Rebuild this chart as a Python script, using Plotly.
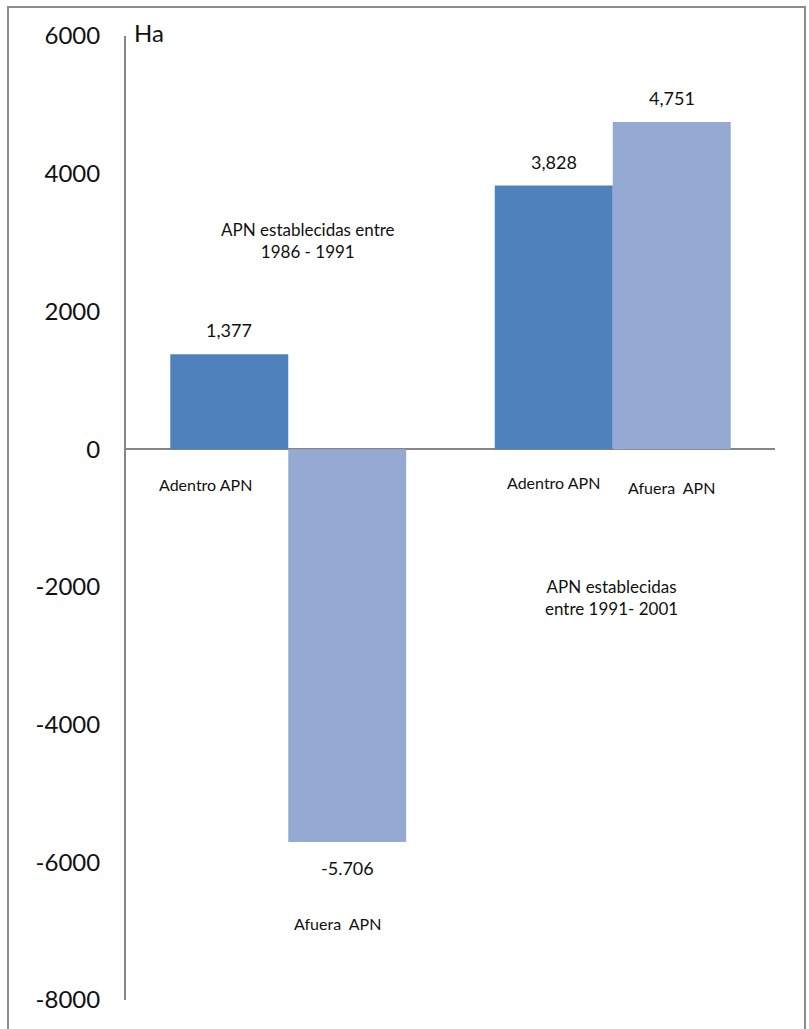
import plotly.graph_objects as go

# Data
periods = ["1986 - 1991", "1991 - 2001"]
adentro = [1377, 3828]
afuera = [-5706, 4751]
series_names = ["Adentro APN", "Afuera  APN"]

y_ticks = [-8000, -6000, -4000, -2000, 0, 2000, 4000, 6000]

# Layout geometry (pixels)
W, H = 809, 1029
M_L, M_R, M_T, M_B = 126, 34, 36, 29
PLOT_W = W - M_L - M_R
PLOT_H = H - M_T - M_B
BARGAP = 0.273

C_DARK = "#4F81BD"
C_LIGHT = "#95AAD2"
AXIS_GRAY = "#868686"
FONT = "Lato"
TXT = "#111111"


def fmt(v):
    s = f"{v:,}"
    return s.replace(",", ".") if v < 0 else s


fig = go.Figure()
fig.add_trace(go.Bar(x=periods, y=adentro, name=series_names[0],
                     marker=dict(color=C_DARK, line=dict(width=0))))
fig.add_trace(go.Bar(x=periods, y=afuera, name=series_names[1],
                     marker=dict(color=C_LIGHT, line=dict(width=0))))

# horizontal offset of each bar centre from its category centre (axis units)
half = (1 - BARGAP) / 4

annotations = []
# value labels
for i in range(len(periods)):
    for vals, off in ((adentro, -half), (afuera, half)):
        v = vals[i]
        annotations.append(dict(
            x=i + off, y=v, xref="x", yref="y", text=fmt(v), showarrow=False,
            yshift=24 if v >= 0 else -26,
            font=dict(family=FONT, size=18, color=TXT)))

# category labels
annotations += [
    dict(x=0 - half, y=0, xref="x", yref="y", text=series_names[0],
         showarrow=False, xshift=-24, yshift=-35,
         font=dict(family=FONT, size=16, color=TXT)),
    dict(x=0 + half, y=afuera[0], xref="x", yref="y", text=series_names[1],
         showarrow=False, xshift=-10, yshift=-81,
         font=dict(family=FONT, size=16, color=TXT)),
    dict(x=1 - half, y=0, xref="x", yref="y", text=series_names[0],
         showarrow=False, yshift=-33,
         font=dict(family=FONT, size=16, color=TXT)),
    dict(x=1 + half, y=0, xref="x", yref="y", text=series_names[1],
         showarrow=False, yshift=-38,
         font=dict(family=FONT, size=16, color=TXT)),
]

# period descriptions
annotations += [
    dict(x=0.06, y=3035, xref="x", yref="y",
         text="APN establecidas entre<br>1986 - 1991", showarrow=False,
         font=dict(family=FONT, size=17, color=TXT), align="center"),
    dict(x=0.995, y=-2160, xref="x", yref="y",
         text="APN establecidas<br>entre 1991- 2001", showarrow=False,
         font=dict(family=FONT, size=17, color=TXT), align="center"),
]

# unit label
annotations.append(dict(
    x=(132 - M_L) / PLOT_W, y=1 + 4 / PLOT_H, xref="paper", yref="paper",
    text="Ha", showarrow=False, xanchor="left", yanchor="middle",
    font=dict(family=FONT, size=24, color=TXT)))

# outer frame
frame = dict(
    type="rect", xref="paper", yref="paper",
    x0=(8 - M_L) / PLOT_W, x1=(W - 4 - M_L) / PLOT_W,
    y0=-(M_B + 20) / PLOT_H, y1=1 + (M_T - 7) / PLOT_H,
    line=dict(color="#8c8c8c", width=2), fillcolor="rgba(0,0,0,0)",
    layer="below")

fig.update_layout(
    width=W, height=H,
    margin=dict(l=M_L, r=M_R, t=M_T, b=M_B, pad=0),
    paper_bgcolor="white", plot_bgcolor="white",
    barmode="group", bargap=BARGAP, bargroupgap=0,
    showlegend=False,
    annotations=annotations,
    shapes=[frame],
    xaxis=dict(showticklabels=False, showgrid=False, showline=False,
               ticks="", zeroline=False, range=[-0.5, 1.5]),
    yaxis=dict(range=[-8000, 6000], tickvals=y_ticks,
               ticktext=[str(t) for t in y_ticks],
               showgrid=False, showline=True, linecolor=AXIS_GRAY,
               linewidth=2, ticks="", ticklabelstandoff=19,
               zeroline=True, zerolinecolor=AXIS_GRAY, zerolinewidth=2,
               tickfont=dict(family=FONT, size=24, color=TXT)),
)

fig.write_html("out.html")
